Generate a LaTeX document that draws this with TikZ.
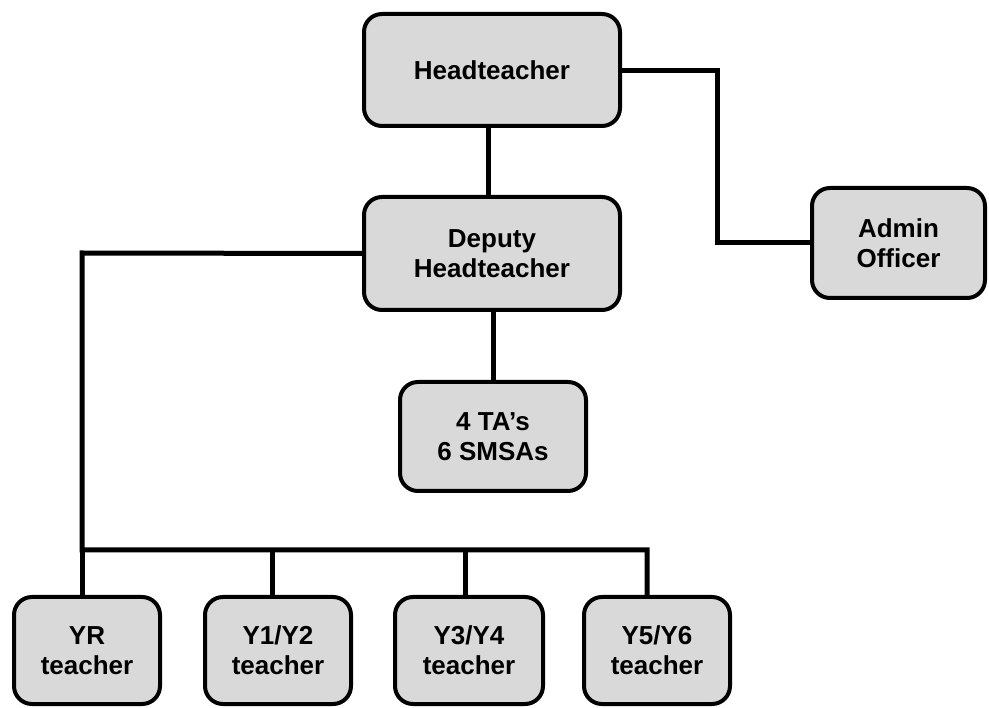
\documentclass[tikz,border=0pt]{standalone}
\usepackage{fontspec}
\setmainfont{Liberation Sans}
\definecolor{boxgray}{HTML}{D9D9D9}
\tikzset{
  staff/.style={draw=black, fill=boxgray, line width=4pt, rounded corners=18pt,
    inner sep=0pt, align=center, text=black,
    font=\fontsize{26}{30}\selectfont\bfseries},
  link/.style={draw=black, line width=5pt, line join=miter, line cap=butt}
}
\begin{document}
\begin{tikzpicture}[x=1pt, y=-1pt]
\useasboundingbox (0,0) rectangle (989,708);

% bend and branch points of the connectors
\coordinate (hd) at (488,70);
\coordinate (adminbend) at (717,71);
\coordinate (leftbend) at (82,253);
\coordinate (busl) at (82,550);
\coordinate (busr) at (647,550);
\coordinate (d1) at (272,550);
\coordinate (d2) at (465,550);

% boxes
\node[staff, minimum width=256pt, minimum height=112pt] (head) at (492,70) {Headteacher};
\node[staff, minimum width=256pt, minimum height=113pt] (deputy) at (492,253.5) {Deputy\\Headteacher};
\node[staff, minimum width=186pt, minimum height=109pt] (ta) at (493,436.5) {4 TA’s\\6 SMSAs};
\node[staff, minimum width=173pt, minimum height=110pt] (admin) at (898.5,243) {Admin\\Officer};
\node[staff, minimum width=146pt, minimum height=107pt] (yr) at (87,650.5) {YR\\teacher};
\node[staff, minimum width=146pt, minimum height=107pt] (y12) at (278,650.5) {Y1/Y2\\teacher};
\node[staff, minimum width=148pt, minimum height=107pt] (y34) at (469,650.5) {Y3/Y4\\teacher};
\node[staff, minimum width=146pt, minimum height=107pt] (y56) at (657,650.5) {Y5/Y6\\teacher};

% head to deputy
\draw[link] (hd |- head.south) -- (hd |- deputy.north);
% head to admin officer
\draw[link] (head.east |- adminbend) -- (adminbend) |- (admin.west);
% deputy to teaching assistants
\draw[link] (ta.north |- deputy.south) -- (ta.north);
% deputy to class teachers
\draw[link] (deputy.west) -- (leftbend) -- (busl) -- (busr) -- (busr |- y56.north);
\draw[link] (busl) -- (busl |- yr.north);
\draw[link] (d1) -- (d1 |- y12.north);
\draw[link] (d2) -- (d2 |- y34.north);
\end{tikzpicture}
\end{document}
